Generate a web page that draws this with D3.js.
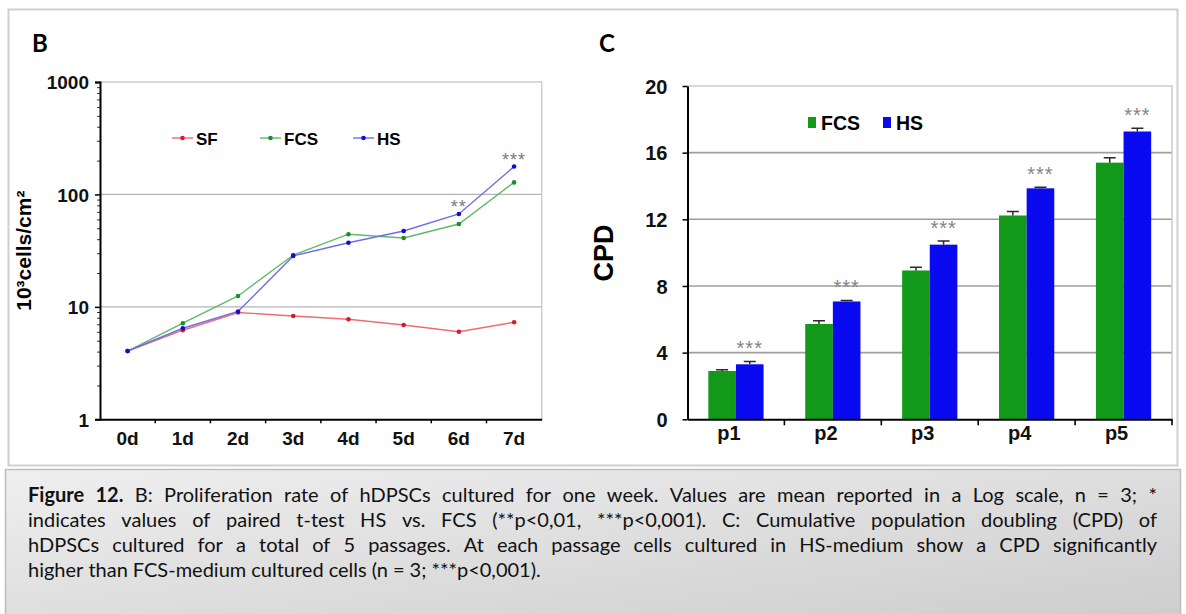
<!DOCTYPE html>
<meta charset="utf-8" />
<style>
  body {
    margin: 0;
    background: #fff;
  }
  svg text {
    font-family: "Liberation Sans", Arial, sans-serif;
  }
  .axis .domain {
    stroke: #000;
    stroke-width: 2px;
  }
  .axis .tick line {
    stroke: #000;
    stroke-width: 1.5px;
  }
  .axis .tick text {
    font-family: "Liberation Sans", Arial, sans-serif;
    font-weight: bold;
    fill: #111;
  }
  .caption text {
    font-family: Lato, "Open Sans", sans-serif;
    font-size: 20px;
    fill: #111;
  }
</style>
<svg width="1186" height="614"></svg>
<script src="https://d3js.org/d3.v7.min.js"></script>
<script>
  // ---- panel B data (10^3 cells/cm2, log scale) ----
  var days = ["0d", "1d", "2d", "3d", "4d", "5d", "6d", "7d"];
  var sfValues = [4.05, 6.2, 8.9, 8.3, 7.75, 6.9, 6.0, 7.3];
  var fcsValues = [4.05, 7.15, 12.5, 28.9, 44.3, 41, 54.6, 128];
  var hsValues = [4.05, 6.45, 9.1, 28.4, 37.2, 47.3, 67, 177];
  var sigB = ["", "", "", "", "", "", "**", "***"];
  var logTicks = [1, 10, 100, 1000];

  // ---- panel C data (CPD) ----
  var passages = ["p1", "p2", "p3", "p4", "p5"];
  var cpdFcs = [2.9, 5.72, 8.93, 12.23, 15.4];
  var cpdHs = [3.3, 7.07, 10.48, 13.86, 17.27];
  var errFcs = [0.08, 0.2, 0.2, 0.24, 0.3];
  var errHs = [0.17, 0.06, 0.22, 0.06, 0.2];
  var sigC = ["***", "***", "***", "***", "***"];
  var cpdTicks = [0, 4, 8, 12, 16, 20];

  var caption = [
    "Figure 12. B: Proliferation rate of hDPSCs cultured for one week. Values are mean reported in a Log scale, n = 3; *",
    "indicates values of paired t-test HS vs. FCS (**p<0,01, ***p<0,001). C: Cumulative population doubling (CPD) of",
    "hDPSCs cultured for a total of 5 passages. At each passage cells cultured in HS-medium show a CPD significantly",
    "higher than FCS-medium cultured cells (n = 3; ***p<0,001).",
  ];

  var svg = d3.select("svg");

  // frame and caption box
  var defs = svg.append("defs");
  var grad = defs
    .append("linearGradient")
    .attr("id", "capgrad")
    .attr("x1", "0%")
    .attr("y1", "0%")
    .attr("x2", "100%")
    .attr("y2", "100%");
  grad.append("stop").attr("offset", "0%").attr("stop-color", "#efefef");
  grad.append("stop").attr("offset", "100%").attr("stop-color", "#cdcdcd");

  svg
    .append("rect")
    .attr("x", 8.5)
    .attr("y", 9.5)
    .attr("width", 1169)
    .attr("height", 456)
    .attr("fill", "none")
    .attr("stroke", "#cfcfcf")
    .attr("stroke-width", 2);

  svg
    .append("rect")
    .attr("x", 5.5)
    .attr("y", 469.5)
    .attr("width", 1175)
    .attr("height", 150)
    .attr("fill", "url(#capgrad)")
    .attr("stroke", "#bdbdbd")
    .attr("stroke-width", 1.5);

  // panel letters
  svg
    .append("text")
    .attr("x", 32)
    .attr("y", 52)
    .style("font-family", "Lato, sans-serif")
    .style("font-weight", "bold")
    .style("font-size", "24px")
    .text("B");
  svg
    .append("text")
    .attr("x", 599)
    .attr("y", 52)
    .style("font-family", "Lato, sans-serif")
    .style("font-weight", "bold")
    .style("font-size", "24px")
    .text("C");

  // ================= PANEL B =================
  var bLeft = 100,
    bRight = 541.7,
    bTop = 82,
    bBottom = 419.3;

  var xB = d3.scaleBand().domain(days).range([bLeft, bRight]);
  var yB = d3.scaleLog().domain([1, 1000]).range([bBottom, bTop]);
  function px(d, i) {
    return xB(days[i]) + xB.bandwidth() / 2;
  }

  var gB = svg.append("g");

  // grid + frame
  gB.selectAll(".gridB")
    .data([10, 100])
    .enter()
    .append("line")
    .attr("x1", bLeft)
    .attr("x2", bRight)
    .attr("y1", function (d) {
      return yB(d);
    })
    .attr("y2", function (d) {
      return yB(d);
    })
    .attr("stroke", "#b4b4b4")
    .attr("stroke-width", 1.2);
  gB.append("path")
    .attr("d", "M" + bLeft + "," + bTop + "H" + bRight + "V" + bBottom)
    .attr("fill", "none")
    .attr("stroke", "#cdcdcd")
    .attr("stroke-width", 1.5);

  // minor log ticks
  var minor = [];
  [1, 10, 100].forEach(function (dec) {
    for (var k = 2; k <= 9; k++) minor.push(dec * k);
  });
  gB.append("g")
    .attr("transform", "translate(" + bLeft + ",0)")
    .call(d3.axisLeft(yB).tickValues(minor).tickSize(3).tickFormat(""))
    .call(function (g) {
      g.select(".domain").remove();
      g.selectAll("line").attr("stroke", "#333").attr("stroke-width", 1);
    });

  gB.append("g")
    .attr("class", "axis")
    .attr("transform", "translate(" + bLeft + ",0)")
    .call(
      d3
        .axisLeft(yB)
        .tickValues(logTicks)
        .tickSizeOuter(0)
        .tickSize(5)
        .tickPadding(6)
        .tickFormat(d3.format("d"))
    )
    .call(function (g) {
      g.selectAll("text").style("font-size", "19px").attr("dy", "0.36em");
    });

  gB.append("g")
    .attr("class", "axis")
    .attr("transform", "translate(0," + bBottom + ")")
    .call(d3.axisBottom(xB).tickSize(0).tickSizeOuter(0).tickPadding(12))
    .call(function (g) {
      g.selectAll("text").style("font-size", "19px");
    });

  // boundary ticks on x axis
  gB.selectAll(".bt")
    .data(days.slice(1))
    .enter()
    .append("line")
    .attr("x1", function (d) {
      return xB(d);
    })
    .attr("x2", function (d) {
      return xB(d);
    })
    .attr("y1", bBottom)
    .attr("y2", bBottom + 4)
    .attr("stroke", "#000")
    .attr("stroke-width", 1.5);

  gB.append("text")
    .attr("transform", "translate(31," + (bTop + bBottom) / 2 + ") rotate(-90)")
    .attr("text-anchor", "middle")
    .style("font-size", "21px")
    .style("font-weight", "bold")
    .text("10³cells/cm²");

  var seriesB = [
    { name: "SF", values: sfValues, line: "#ef6d70", dot: "#d81b2a", lx: 172 },
    { name: "FCS", values: fcsValues, line: "#62b96a", dot: "#1d8c2c", lx: 260 },
    { name: "HS", values: hsValues, line: "#6e6ee6", dot: "#1010c8", lx: 353 },
  ];

  var lineB = d3
    .line()
    .x(px)
    .y(function (d) {
      return yB(d);
    });

  seriesB.forEach(function (s) {
    gB.append("path")
      .datum(s.values)
      .attr("d", lineB)
      .attr("fill", "none")
      .attr("stroke", s.line)
      .attr("stroke-width", 1.4);
    gB.selectAll(null)
      .data(s.values)
      .enter()
      .append("circle")
      .attr("cx", px)
      .attr("cy", function (d) {
        return yB(d);
      })
      .attr("r", 2.3)
      .attr("fill", s.dot);

    // legend
    var lg = gB.append("g").attr("transform", "translate(" + s.lx + ",138)");
    lg.append("line")
      .attr("x1", 0)
      .attr("x2", 21)
      .attr("stroke", s.line)
      .attr("stroke-width", 1.4);
    lg.append("circle").attr("cx", 10.5).attr("r", 2.3).attr("fill", s.dot);
    lg.append("text")
      .attr("x", 24)
      .attr("y", 6.5)
      .style("font-size", "17px")
      .style("font-weight", "bold")
      .text(s.name);
  });

  gB.selectAll(".starB")
    .data(sigB)
    .enter()
    .append("text")
    .attr("x", px)
    .attr("y", function (d, i) {
      return yB(hsValues[i]) - 10 + 9;
    })
    .attr("text-anchor", "middle")
    .style("font-size", "18px")
    .style("letter-spacing", "1px")
    .attr("fill", "#7a7a7a")
    .text(function (d) {
      return d;
    });

  // ================= PANEL C =================
  var cLeft = 687.5,
    cRight = 1172,
    cTop = 86,
    cBottom = 419.3;

  var xC = d3
    .scaleBand()
    .domain(passages)
    .range([cLeft, cRight])
    .paddingInner(0.43)
    .paddingOuter(0.215);
  var xSub = d3.scaleBand().domain(["FCS", "HS"]).range([0, xC.bandwidth()]);
  var yC = d3.scaleLinear().domain([0, 20]).range([cBottom, cTop]);

  var gC = svg.append("g");

  gC.selectAll(".gridC")
    .data(cpdTicks.slice(1, -1))
    .enter()
    .append("line")
    .attr("x1", cLeft)
    .attr("x2", cRight)
    .attr("y1", function (d) {
      return yC(d);
    })
    .attr("y2", function (d) {
      return yC(d);
    })
    .attr("stroke", "#9e9e9e")
    .attr("stroke-width", 1.6);
  gC.append("path")
    .attr("d", "M" + cLeft + "," + cTop + "H" + cRight + "V" + cBottom)
    .attr("fill", "none")
    .attr("stroke", "#cdcdcd")
    .attr("stroke-width", 1.5);

  var barsC = [
    { key: "FCS", values: cpdFcs, err: errFcs, color: "#12991a" },
    { key: "HS", values: cpdHs, err: errHs, color: "#0a0af0" },
  ];

  barsC.forEach(function (s) {
    var g = gC.append("g");
    g.selectAll("rect")
      .data(s.values)
      .enter()
      .append("rect")
      .attr("x", function (d, i) {
        return xC(passages[i]) + xSub(s.key);
      })
      .attr("width", xSub.bandwidth())
      .attr("y", function (d) {
        return yC(d);
      })
      .attr("height", function (d) {
        return yC(0) - yC(d);
      })
      .attr("fill", s.color);
    // error bars
    g.selectAll(".err")
      .data(s.values)
      .enter()
      .append("path")
      .attr("d", function (d, i) {
        var cx = xC(passages[i]) + xSub(s.key) + xSub.bandwidth() / 2;
        var yt = yC(d + s.err[i]);
        return (
          "M" + cx + "," + yC(d) + "V" + yt + "M" + (cx - 6) + "," + yt + "H" + (cx + 6)
        );
      })
      .attr("stroke", "#2a2a2a")
      .attr("stroke-width", 1.5)
      .attr("fill", "none");
  });

  gC.selectAll(".starC")
    .data(sigC)
    .enter()
    .append("text")
    .attr("x", function (d, i) {
      return xC(passages[i]) + xSub("HS") + xSub.bandwidth() / 2;
    })
    .attr("y", function (d, i) {
      return yC(cpdHs[i] + errHs[i]) - 17 + 11;
    })
    .attr("text-anchor", "middle")
    .style("font-size", "20px")
    .style("letter-spacing", "1px")
    .attr("fill", "#858585")
    .text(function (d) {
      return d;
    });

  gC.append("g")
    .attr("class", "axis")
    .attr("transform", "translate(" + cLeft + ",0)")
    .call(
      d3
        .axisLeft(yC)
        .tickValues(cpdTicks)
        .tickSize(5)
        .tickSizeOuter(0)
        .tickPadding(15)
    )
    .call(function (g) {
      g.selectAll("text").style("font-size", "20px").attr("dy", "0.36em");
    });

  gC.append("g")
    .attr("class", "axis")
    .attr("transform", "translate(0," + cBottom + ")")
    .call(d3.axisBottom(xC).tickSize(0).tickSizeOuter(0).tickPadding(7))
    .call(function (g) {
      g.selectAll("text").style("font-size", "20px").attr("dx", "-7");
    });

  gC.selectAll(".ct")
    .data(passages.slice(1).concat(["end"]))
    .enter()
    .append("line")
    .attr("x1", function (d) {
      return d === "end" ? cRight : xC(d) - xC.paddingOuter() * xC.step();
    })
    .attr("x2", function (d) {
      return d === "end" ? cRight : xC(d) - xC.paddingOuter() * xC.step();
    })
    .attr("y1", cBottom)
    .attr("y2", cBottom + 6)
    .attr("stroke", "#000")
    .attr("stroke-width", 1.6);

  gC.append("text")
    .attr("transform", "translate(613," + 253 + ") rotate(-90)")
    .attr("text-anchor", "middle")
    .style("font-size", "27px")
    .style("font-weight", "bold")
    .text("CPD");

  // legend C
  var legC = [
    { key: "FCS", color: "#12991a", x: 808 },
    { key: "HS", color: "#0a0af0", x: 883 },
  ];
  legC.forEach(function (l) {
    gC.append("rect")
      .attr("x", l.x)
      .attr("y", 117)
      .attr("width", 8)
      .attr("height", 11)
      .attr("fill", l.color);
    gC.append("text")
      .attr("x", l.x + 13)
      .attr("y", 130)
      .style("font-size", "19.5px")
      .style("font-weight", "bold")
      .text(l.key);
  });

  // ================= CAPTION (justified) =================
  var cap = svg.append("g").attr("class", "caption");
  var capLeft = 28,
    capRight = 1157;
  caption.forEach(function (line, li) {
    var words = line.split(" ");
    var y = 502 + li * 25;
    var nodes = words.map(function (w, wi) {
      var t = cap.append("text").attr("y", y).text(w);
      if (li === 0 && wi < 2) t.style("font-weight", "bold");
      return t;
    });
    var widths = nodes.map(function (t) {
      return t.node().getComputedTextLength();
    });
    var total = d3.sum(widths);
    var space = 5;
    if (li < caption.length - 1) {
      space = (capRight - capLeft - total) / (words.length - 1);
    }
    var x = capLeft;
    nodes.forEach(function (t, i) {
      t.attr("x", x);
      x += widths[i] + space;
    });
  });
</script>
